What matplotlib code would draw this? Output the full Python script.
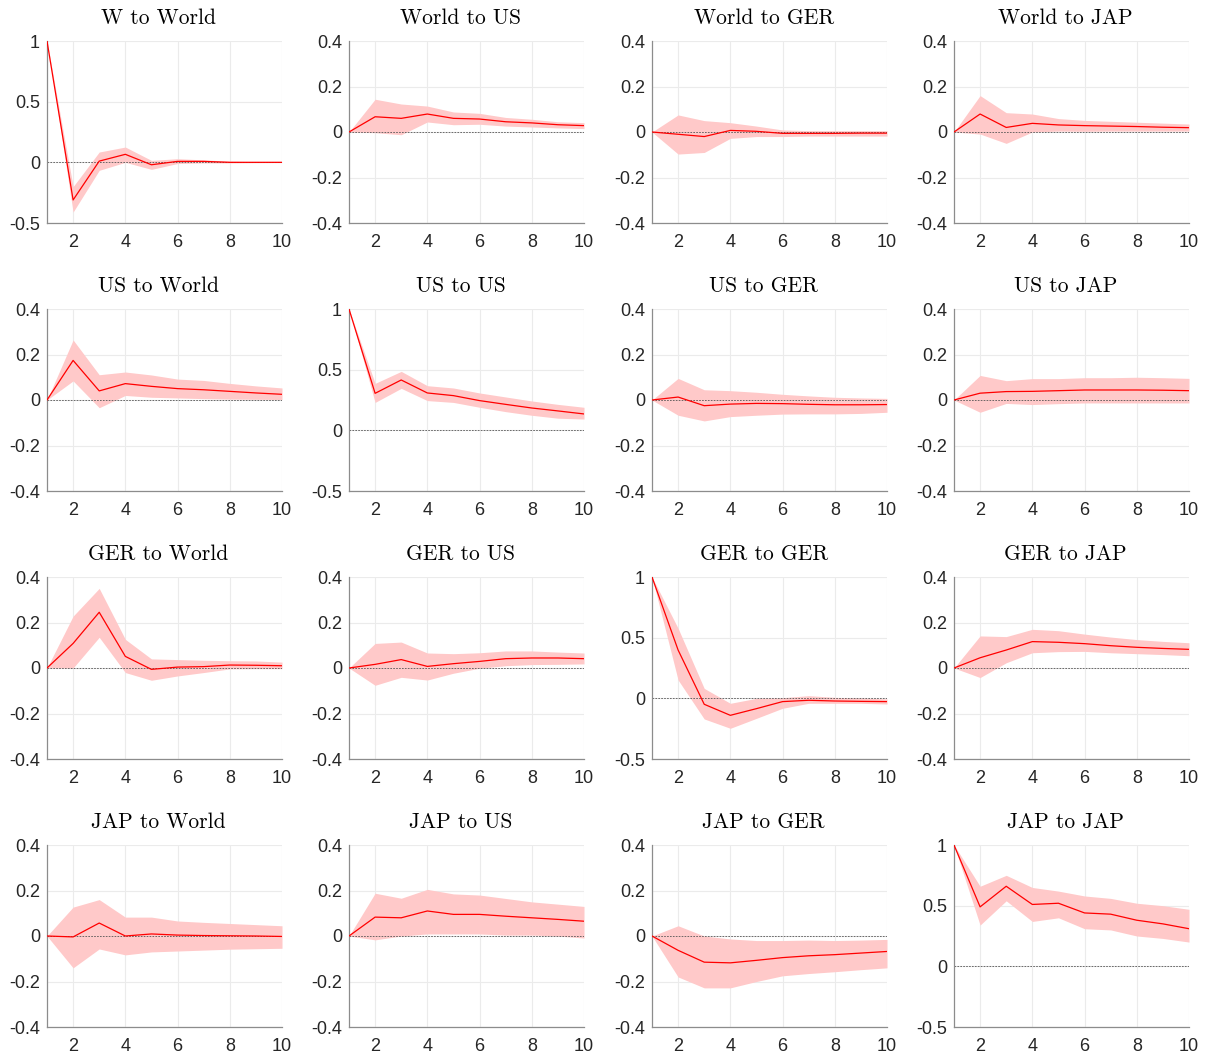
import matplotlib
matplotlib.use("Agg")
import matplotlib.pyplot as plt
import numpy as np

horizon = [1, 2, 3, 4, 5, 6, 7, 8, 9, 10]

titles = [
    "W to World", "World to US", "World to GER", "World to JAP",
    "US to World", "US to US", "US to GER", "US to JAP",
    "GER to World", "GER to US", "GER to GER", "GER to JAP",
    "JAP to World", "JAP to US", "JAP to GER", "JAP to JAP",
]

# median responses
median = [
    [1, -0.31, 0.01, 0.066, -0.02, 0.008, 0.008, 0.0, 0.0, 0.0],
    [0, 0.067, 0.06, 0.079, 0.06, 0.057, 0.045, 0.04, 0.032, 0.028],
    [0, -0.01, -0.02, 0.007, 0.003, -0.006, -0.006, -0.006, -0.005, -0.005],
    [0, 0.079, 0.02, 0.038, 0.031, 0.028, 0.026, 0.024, 0.021, 0.019],
    [0, 0.174, 0.04, 0.072, 0.06, 0.05, 0.045, 0.038, 0.031, 0.025],
    [1, 0.305, 0.415, 0.308, 0.286, 0.245, 0.214, 0.184, 0.16, 0.135],
    [0, 0.013, -0.025, -0.018, -0.015, -0.016, -0.019, -0.021, -0.021, -0.02],
    [0, 0.03, 0.037, 0.038, 0.041, 0.044, 0.044, 0.044, 0.043, 0.041],
    [0, 0.108, 0.245, 0.051, -0.006, 0.004, 0.006, 0.013, 0.012, 0.01],
    [0, 0.016, 0.037, 0.007, 0.019, 0.029, 0.041, 0.044, 0.044, 0.041],
    [1, 0.398, -0.049, -0.14, -0.085, -0.027, -0.016, -0.022, -0.025, -0.027],
    [0, 0.045, 0.079, 0.116, 0.113, 0.107, 0.098, 0.091, 0.086, 0.082],
    [0, -0.004, 0.057, 0.0, 0.009, 0.004, 0.002, 0.001, 0.0, -0.002],
    [0, 0.083, 0.08, 0.11, 0.095, 0.095, 0.087, 0.08, 0.073, 0.065],
    [0, -0.063, -0.115, -0.118, -0.107, -0.095, -0.087, -0.082, -0.075, -0.068],
    [1, 0.49, 0.66, 0.51, 0.52, 0.44, 0.43, 0.38, 0.35, 0.31],
]

# lower band
lower = [
    [1, -0.41, -0.066, 0.0, -0.058, -0.01, -0.005, -0.005, -0.003, -0.002],
    [0, -0.003, -0.012, 0.044, 0.032, 0.034, 0.026, 0.022, 0.018, 0.015],
    [0, -0.097, -0.09, -0.028, -0.02, -0.02, -0.018, -0.018, -0.018, -0.018],
    [0, -0.009, -0.05, 0.0, 0.004, 0.003, 0.004, 0.004, 0.004, 0.004],
    [0, 0.084, -0.034, 0.02, 0.012, 0.009, 0.006, 0.004, 0.003, 0.002],
    [1, 0.23, 0.346, 0.245, 0.23, 0.19, 0.154, 0.124, 0.1, 0.093],
    [0, -0.067, -0.092, -0.073, -0.067, -0.062, -0.061, -0.061, -0.059, -0.054],
    [0, -0.054, -0.015, -0.02, -0.016, -0.013, -0.013, -0.013, -0.013, -0.013],
    [0, 0.0, 0.135, -0.02, -0.054, -0.035, -0.02, -0.004, -0.003, -0.003],
    [0, -0.076, -0.041, -0.053, -0.023, -0.001, 0.01, 0.015, 0.016, 0.018],
    [1, 0.151, -0.17, -0.247, -0.165, -0.082, -0.041, -0.041, -0.041, -0.047],
    [0, -0.042, 0.023, 0.067, 0.072, 0.073, 0.067, 0.063, 0.059, 0.054],
    [0, -0.14, -0.057, -0.083, -0.07, -0.066, -0.062, -0.058, -0.056, -0.054],
    [0, -0.017, 0.0, 0.009, 0.009, 0.009, 0.004, 0.004, 0.0, -0.009],
    [0, -0.18, -0.228, -0.228, -0.2, -0.175, -0.165, -0.157, -0.148, -0.14],
    [1, 0.34, 0.54, 0.37, 0.40, 0.31, 0.30, 0.25, 0.23, 0.20],
]

# upper band
upper = [
    [1, -0.20, 0.085, 0.126, 0.016, 0.03, 0.02, 0.01, 0.005, 0.003],
    [0, 0.144, 0.123, 0.114, 0.088, 0.082, 0.064, 0.056, 0.045, 0.041],
    [0, 0.075, 0.05, 0.041, 0.026, 0.009, 0.006, 0.006, 0.006, 0.006],
    [0, 0.16, 0.085, 0.079, 0.059, 0.051, 0.047, 0.043, 0.039, 0.035],
    [0, 0.264, 0.111, 0.123, 0.11, 0.092, 0.086, 0.073, 0.062, 0.053],
    [1, 0.387, 0.486, 0.368, 0.349, 0.308, 0.275, 0.242, 0.214, 0.19],
    [0, 0.095, 0.045, 0.041, 0.034, 0.025, 0.018, 0.012, 0.009, 0.007],
    [0, 0.108, 0.085, 0.094, 0.094, 0.098, 0.098, 0.1, 0.098, 0.095],
    [0, 0.228, 0.35, 0.126, 0.04, 0.037, 0.034, 0.032, 0.031, 0.026],
    [0, 0.108, 0.114, 0.066, 0.063, 0.067, 0.075, 0.075, 0.07, 0.066],
    [1, 0.577, 0.082, -0.041, 0.0, 0.005, 0.022, 0.008, 0.003, -0.005],
    [0, 0.141, 0.138, 0.17, 0.164, 0.149, 0.136, 0.125, 0.117, 0.111],
    [0, 0.127, 0.16, 0.083, 0.083, 0.066, 0.06, 0.055, 0.05, 0.045],
    [0, 0.188, 0.166, 0.205, 0.185, 0.18, 0.165, 0.15, 0.14, 0.13],
    [0, 0.045, 0.0, -0.013, -0.02, -0.02, -0.018, -0.02, -0.018, -0.015],
    [1, 0.66, 0.75, 0.65, 0.62, 0.58, 0.56, 0.52, 0.50, 0.47],
]

own_shock = [0, 5, 10, 15]  # panels with scale -0.5..1

fig = plt.figure(figsize=(12.1, 10.57), dpi=100)
W, H = 1210, 1057
col_left = [47, 349, 652, 954]
row_top = [41, 309, 577, 845]
ax_w, ax_h = 235, 182

for k, title in enumerate(titles):
    r, c = divmod(k, 4)
    ax = fig.add_axes([col_left[c] / W, 1 - (row_top[r] + ax_h) / H, ax_w / W, ax_h / H])
    ax.fill_between(horizon, lower[k], upper[k], color="#ffc9c9", linewidth=0, zorder=1)
    ax.plot(horizon, median[k], color="#ff0000", linewidth=0.9, zorder=3)
    ax.axhline(0, color="#555555", linewidth=0.6, linestyle=(0, (2, 1.5)), zorder=2)
    ax.set_xlim(1, 10)
    if k in own_shock:
        ax.set_ylim(-0.5, 1)
        ax.set_yticks([-0.5, 0, 0.5, 1])
        ax.set_yticklabels(["-0.5", "0", "0.5", "1"])
    else:
        ax.set_ylim(-0.4, 0.4)
        ax.set_yticks([-0.4, -0.2, 0, 0.2, 0.4])
        ax.set_yticklabels(["-0.4", "-0.2", "0", "0.2", "0.4"])
    ax.set_xticks([2, 4, 6, 8, 10])
    ax.grid(True, color="#ebebeb", linewidth=0.8, zorder=0)
    ax.set_axisbelow(True)
    for s in ["top", "right"]:
        ax.spines[s].set_visible(False)
    for s in ["left", "bottom"]:
        ax.spines[s].set_color("#8c8c8c")
        ax.spines[s].set_linewidth(0.9)
    ax.tick_params(length=0, labelsize=13, labelcolor="#262626")
    ax.tick_params(axis="x", pad=8)
    ax.tick_params(axis="y", pad=5)
    for lab in ax.get_xticklabels() + ax.get_yticklabels():
        lab.set_fontfamily("Liberation Sans")
    ax.set_title(title, fontname="cmr10", fontsize=15.5, pad=12.5, x=0.475)

fig.savefig("out.png", dpi=100)
